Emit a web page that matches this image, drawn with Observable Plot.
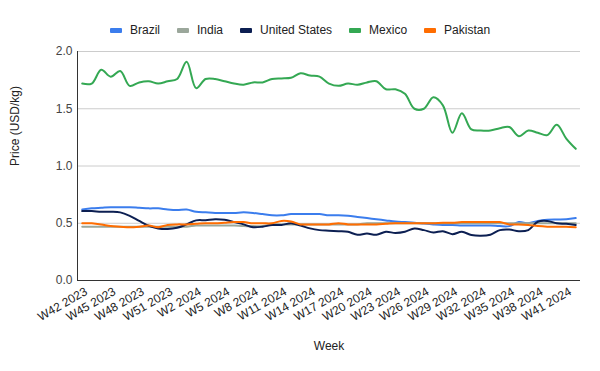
<!DOCTYPE html>
<html>
<head>
<meta charset="utf-8">
<script src="https://cdn.jsdelivr.net/npm/d3@7"></script>
<script src="https://cdn.jsdelivr.net/npm/@observablehq/plot@0.6"></script>
<style>
  html, body { margin: 0; padding: 0; background: #fff; }
  #wrap { position: relative; width: 600px; height: 371px; font-family: "Liberation Sans", Arial, sans-serif; }
  #legend { position: absolute; left: 110px; top: 22px; height: 16px; display: flex; align-items: center; font-size: 12px; color: #222; white-space: nowrap; }
  .item { display: flex; align-items: center; margin-right: 17px; }
  .sw { width: 12px; height: 5px; margin-right: 8px; border-radius: 1px; }
  #chart { position: absolute; left: 0; top: 40px; }
</style>
</head>
<body>
<div id="wrap">
  <div id="legend"></div>
  <div id="chart"></div>
</div>
<script>
const weeks = [
  "W42 2023","W43 2023","W44 2023","W45 2023","W46 2023","W47 2023","W48 2023","W49 2023","W50 2023","W51 2023","W52 2023",
  "W1 2024","W2 2024","W3 2024","W4 2024","W5 2024","W6 2024","W7 2024","W8 2024","W9 2024","W10 2024",
  "W11 2024","W12 2024","W13 2024","W14 2024","W15 2024","W16 2024","W17 2024","W18 2024","W19 2024","W20 2024",
  "W21 2024","W22 2024","W23 2024","W24 2024","W25 2024","W26 2024","W27 2024","W28 2024","W29 2024","W30 2024",
  "W31 2024","W32 2024","W33 2024","W34 2024","W35 2024","W36 2024","W37 2024","W38 2024","W39 2024","W40 2024",
  "W41 2024","W42 2024"
];
const tickLabels = ["W42 2023","W45 2023","W48 2023","W51 2023","W2 2024","W5 2024","W8 2024","W11 2024","W14 2024",
  "W17 2024","W20 2024","W23 2024","W26 2024","W29 2024","W32 2024","W35 2024","W38 2024","W41 2024"];
const yTicks = [0, 0.5, 1.0, 1.5, 2.0];

const seriesNames = ["Brazil", "India", "United States", "Mexico", "Pakistan"];
const seriesColors = ["#3b7ded", "#9ba79b", "#0c1f52", "#34a853", "#ff6d01"];

const brazil = [0.62,0.63,0.635,0.64,0.64,0.64,0.635,0.63,0.63,0.62,0.615,0.62,0.60,
  0.595,0.59,0.59,0.59,0.595,0.59,0.58,
  0.57,0.57,0.58,0.58,0.58,0.58,0.57,
  0.57,0.565,0.555,0.545,0.535,0.525,0.515,0.51,0.505,0.497,0.49,0.485,
  0.485,0.48,0.48,0.48,0.48,0.475,0.475,
  0.51,0.50,0.52,0.53,0.533,0.535,0.545];
const india = [0.47,0.47,0.47,0.47,0.47,0.47,0.47,0.47,0.47,0.47,0.47,0.47,
  0.48,0.48,0.48,0.48,0.48,
  0.475,0.475,0.475,
  0.49,0.49,0.49,0.49,0.49,0.49,0.49,0.49,0.49,0.49,
  0.50,0.50,0.50,0.50,0.50,0.50,0.50,0.50,0.50,0.50,0.50,0.50,0.50,0.50,0.50,0.50,0.50,0.50,0.50,0.50,0.50,0.50,0.50];
const unitedStates = [0.606,0.606,0.60,0.60,0.595,0.565,0.52,0.478,0.455,0.45,0.46,0.49,0.525,
  0.527,0.535,0.53,0.51,0.49,0.465,0.47,
  0.485,0.485,0.50,0.48,0.455,0.44,0.435,
  0.43,0.425,0.40,0.41,0.40,0.425,0.415,0.425,0.455,0.44,0.42,0.43,
  0.405,0.425,0.397,0.39,0.40,0.44,0.445,
  0.43,0.44,0.513,0.52,0.50,0.495,0.485];
const mexico = [1.72,1.72,1.84,1.78,1.83,1.70,1.73,1.74,1.72,1.74,1.76,1.91,1.68,
  1.76,1.76,1.74,1.72,1.71,1.73,1.73,1.76,1.765,1.77,1.81,1.79,1.78,1.72,
  1.70,1.72,1.71,1.73,1.74,1.67,1.67,1.63,1.50,1.50,1.60,1.53,1.29,1.46,
  1.32,1.31,1.31,1.33,1.34,1.26,1.31,1.29,1.27,1.36,1.24,1.15];
const pakistan = [0.50,0.50,0.49,0.475,0.47,0.465,0.47,0.48,0.465,0.485,0.49,0.49,0.495,
  0.50,0.50,0.505,0.51,0.51,0.50,0.50,
  0.50,0.52,0.515,0.49,0.49,0.49,0.49,
  0.50,0.49,0.49,0.49,0.49,0.495,0.50,0.50,0.50,0.50,0.50,0.505,
  0.505,0.51,0.51,0.51,0.51,0.51,0.49,
  0.49,0.485,0.475,0.47,0.47,0.47,0.465];

const seriesValues = [brazil, india, unitedStates, mexico, pakistan];
const data = seriesNames.flatMap((s, k) => seriesValues[k].map((v, i) => ({idx: i, week: weeks[i], value: v, series: s})));
const tickIdx = tickLabels.map(t => weeks.indexOf(t));

// legend
const legend = document.getElementById("legend");
seriesNames.forEach((s, k) => {
  const it = document.createElement("div");
  it.className = "item";
  const sw = document.createElement("span");
  sw.className = "sw";
  sw.style.background = seriesColors[k];
  const tx = document.createElement("span");
  tx.textContent = s;
  it.appendChild(sw); it.appendChild(tx);
  legend.appendChild(it);
});

const chart = Plot.plot({
  width: 600,
  height: 331,
  marginTop: 11,
  marginBottom: 91,
  marginLeft: 77,
  marginRight: 20,
  style: {fontFamily: "'Liberation Sans', Arial, sans-serif", fontSize: "12px", color: "#333", background: "#fff"},
  x: {type: "linear", domain: [-0.5, weeks.length - 0.5]},
  y: {domain: [0, 2]},
  color: {domain: seriesNames, range: seriesColors},
  marks: [
    Plot.gridY(yTicks, {stroke: "#cccccc", strokeOpacity: 1}),
    Plot.axisY(yTicks, {tickSize: 0, tickPadding: 5, tickFormat: d => d.toFixed(1), label: null, fill: "#444"}),
    Plot.axisX(tickIdx, {tickSize: 0, tickPadding: 10, dx: 4, tickRotate: -30, tickFormat: i => weeks[i], label: null, fill: "#222"}),
    Plot.line(data, {x: "idx", y: "value", z: "series", stroke: "series", strokeWidth: 2, curve: "catmull-rom"}),
    Plot.ruleY([0], {stroke: "#333", strokeWidth: 1}),
    Plot.frame({anchor: "left", stroke: "#333"}),
    Plot.text(["Week"], {frameAnchor: "bottom", dy: 69, fontSize: 12, fill: "#222"}),
    Plot.text(["Price (USD/kg)"], {frameAnchor: "left", dx: -62, rotate: -90, fontSize: 12, fill: "#222"})
  ]
});
document.getElementById("chart").appendChild(chart);
</script>
</body>
</html>
